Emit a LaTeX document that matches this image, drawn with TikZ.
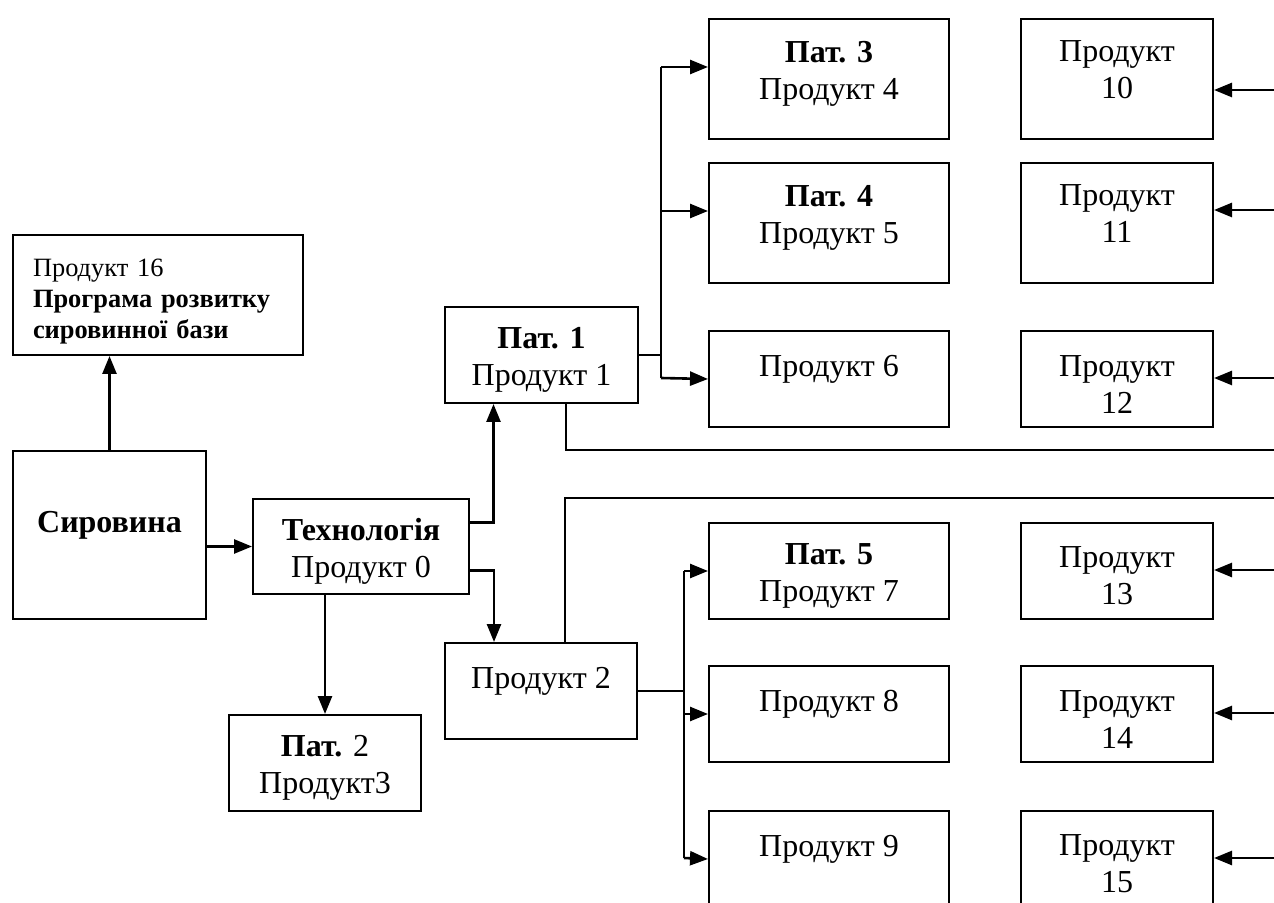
\documentclass[tikz,border=0pt]{standalone}
\usepackage{fontspec}
\setmainfont{Liberation Serif}
\usetikzlibrary{arrows.meta}

\newcommand{\topgap}{\rule{0pt}{15.6pt}}
\newcommand{\lowgap}{\rule[-9pt]{0pt}{0pt}}

\tikzset{
  blk/.style={draw, line width=1pt, anchor=north west, align=center, inner sep=0pt,
    font=\fontsize{16}{18.5}\selectfont},
  arr/.style={line width=1.3pt, -{Triangle[length=9pt,width=7pt]}},
  ln/.style={line width=1pt}
}

\begin{document}
\begin{tikzpicture}[x=0.5pt, y=-0.5pt]
        \useasboundingbox (0,0) rectangle (1274,903);
        \node[blk, minimum width=145pt, minimum height=60pt, align=left, text width=125pt,
              font=\fontsize{13.2}{15.5}\selectfont] (p16) at (12,234)
              {\topgap Продукт 16\\\textbf{Програма розвитку}\\\textbf{сировинної бази}};
        \node[blk, minimum width=96.5pt, minimum height=84pt] (syr) at (12,450) {\topgap\textbf{Сировина}\\~};
        \node[blk, minimum width=108pt, minimum height=47.5pt] (tech) at (252,498) {\topgap\textbf{Технологія}\\Продукт 0};
        \node[blk, minimum width=96pt, minimum height=48pt] (pat2) at (228,714) {\topgap\textbf{Пат.} 2\\Продукт3};
        \node[blk, minimum width=96.5pt, minimum height=48pt] (pat1) at (444,306) {\topgap\textbf{Пат. 1}\\Продукт 1};
        \node[blk, minimum width=96pt, minimum height=48pt] (p2) at (444,642) {\topgap Продукт 2\\~};
        \foreach \n/\t/\h/\txt in {pat3/18/60/{\textbf{Пат. 3}\\Продукт 4\lowgap}, pat4/162/60/{\textbf{Пат. 4}\\Продукт 5\lowgap},
                                   p6/330/48/{\topgap Продукт 6\\~}, pat5/522/48/{\topgap\textbf{Пат. 5}\\Продукт 7},
                                   p8/665/48/{\topgap Продукт 8\\~}, p9/810/48/{\topgap Продукт 9\\~}}
            \node[blk, minimum width=120pt, minimum height=\h pt] (\n) at (708,\t) {\txt};
        \foreach \n/\t/\a/\h/\pre/\post in {10/18/90/60/{}/\lowgap, 11/162/210/60/{}/\lowgap, 12/330/378/48/\topgap/{},
                                            13/522/570/48/\topgap/{}, 14/665/713/48/\topgap/{}, 15/810/858/48/\topgap/{}} {
            \node[blk, minimum width=96pt, minimum height=\h pt] (p\n) at (1020,\t) {\pre Продукт\\\n\post};
            \coordinate (in\n) at (1274,\a);
            \draw[arr] (in\n) -- (in\n -| p\n.east);
        }
        \draw[arr] (syr.north) -- (syr.north |- p16.south);
        \draw[arr] (syr.east |- tech.west) -- (tech.west);
        \draw[arr] (tech.south -| pat2.north) -- (pat2.north);
        \draw[arr] ([yshift=12pt]tech.east) -| ([xshift=-24pt]pat1.south);
        \draw[arr] ([yshift=-12pt]tech.east) -| ([xshift=-23.5pt]p2.north);
        \coordinate (bus1t) at (661,67);
        \coordinate (bus1b) at (661,378);
        \draw[ln] (pat1.east) -- (pat1.east -| bus1t);
        \draw[ln] (bus1t) -- (bus1b);
        \draw[arr] (bus1t) -- (bus1t -| pat3.west);
        \draw[arr] ([yshift=6pt]pat4.west -| bus1t) -- ([yshift=6pt]pat4.west);
        \draw[arr] (bus1b) -- (p6.west);
        \coordinate (bus2t) at (684,571);
        \coordinate (bus2b) at (684,858);
        \draw[ln] (p2.east) -- (p2.east -| bus2t);
        \draw[ln] (bus2t) -- (bus2b);
        \draw[arr] (bus2t) -- (pat5.west);
        \draw[arr] (p8.west -| bus2t) -- (p8.west);
        \draw[arr] (bus2b) -- (p9.west);
        \coordinate (out1) at (1274,450);
        \coordinate (out2) at (1274,498);
        \draw[ln] ([xshift=12pt]pat1.south) |- (out1);
        \draw[ln] ([xshift=12pt]p2.north) |- (out2);
    \end{tikzpicture}
\end{document}
